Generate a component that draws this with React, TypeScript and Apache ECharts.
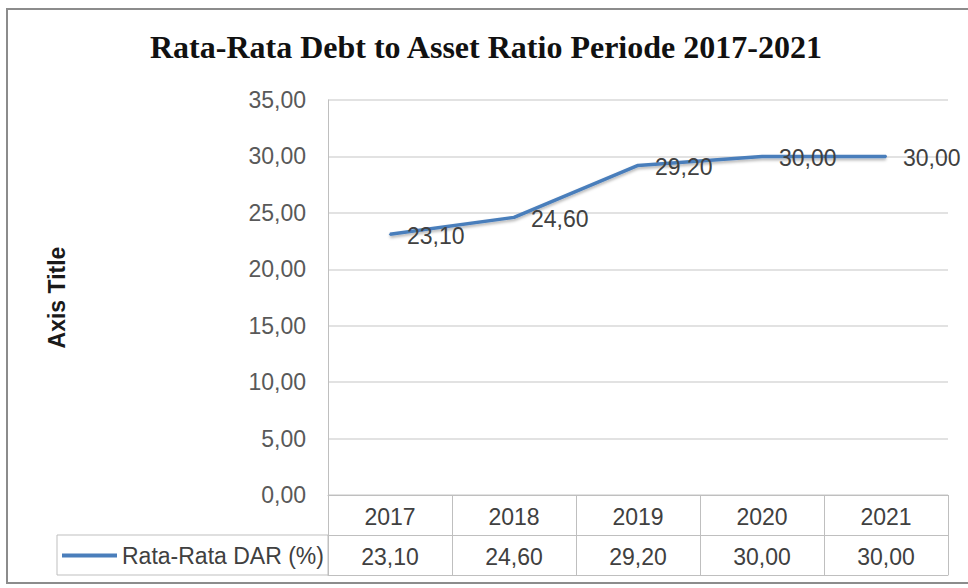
import React, { useEffect, useRef } from "react";
import * as echarts from "echarts";

const titleText = "Rata-Rata Debt to Asset Ratio Periode 2017-2021";
const years = ["2017", "2018", "2019", "2020", "2021"];
const seriesName = "Rata-Rata DAR (%)";
const darValues = [23.1, 24.6, 29.2, 30.0, 30.0];
const yTicks = { min: 0, max: 35, interval: 5 };
const yAxisTitle = "Axis Title";

const fmt = (v: number) => v.toFixed(2).replace(".", ",");

export default function App() {
  const ref = useRef<HTMLDivElement>(null);
  useEffect(() => {
    document.body.style.margin = "0";
    if (!ref.current) return;
    const chart = echarts.init(ref.current, undefined, { renderer: "svg" });
    const font = "'Liberation Sans', Arial, sans-serif";
    const tableLine = "#bfbfbf";
    const lineColor = "#4a7ebb";
    chart.setOption({
      animation: false,
      backgroundColor: "#ffffff",
      title: {
        text: titleText,
        left: 150,
        top: 31,
        padding: 0,
        textStyle: {
          fontFamily: "'Liberation Serif', 'Times New Roman', serif",
          fontWeight: "bold",
          fontSize: 32,
          color: "#111111",
        },
      },
      legend: {
        data: [{ name: seriesName, itemStyle: { color: lineColor, opacity: 1 } }],
        left: 62,
        top: 544,
        padding: 0,
        icon: "rect",
        itemWidth: 55,
        itemHeight: 4,
        itemStyle: { color: lineColor, opacity: 1 },
        textStyle: { fontFamily: font, fontSize: 23, color: "#404040" },
      },
      grid: { left: 328, right: 20, top: 100, bottom: 93, containLabel: false },
      xAxis: [
        {
          type: "category",
          data: years,
          boundaryGap: true,
          position: "bottom",
          axisLine: { show: true, lineStyle: { color: tableLine, width: 1 } },
          axisTick: { show: true, length: 80, interval: 0, alignWithLabel: false, lineStyle: { color: tableLine } },
          axisLabel: { margin: 10, fontFamily: font, fontSize: 23, color: "#404040", interval: 0 },
          splitLine: { show: false },
        },
        {
          type: "category",
          data: darValues.map(fmt),
          boundaryGap: true,
          position: "bottom",
          offset: 40,
          axisLine: { show: true, lineStyle: { color: tableLine, width: 1 } },
          axisTick: { show: false },
          axisLabel: { margin: 10, fontFamily: font, fontSize: 23, color: "#404040", interval: 0 },
        },
        {
          type: "category",
          data: years,
          position: "bottom",
          offset: 80,
          axisLine: { show: true, lineStyle: { color: tableLine, width: 1 } },
          axisTick: { show: false },
          axisLabel: { show: false },
        },
      ],
      yAxis: {
        type: "value",
        min: yTicks.min,
        max: yTicks.max,
        interval: yTicks.interval,
        name: yAxisTitle,
        nameLocation: "middle",
        nameRotate: 90,
        nameGap: 260,
        nameTextStyle: { fontFamily: font, fontSize: 23, fontWeight: "bold", color: "#1a1a1a" },
        axisLine: { show: true, lineStyle: { color: tableLine } },
        axisTick: { show: false },
        axisLabel: {
          margin: 22,
          fontFamily: font,
          fontSize: 23,
          color: "#595959",
          formatter: (v: number) => fmt(v),
        },
        splitLine: { show: true, lineStyle: { color: "#d9d9d9", width: 1.5 } },
      },
      series: [
        {
          name: seriesName,
          type: "line",
          data: darValues,
          showSymbol: true,
          symbol: "circle",
          symbolSize: 2,
          itemStyle: { color: lineColor },
          color: lineColor,
          lineStyle: {
            color: lineColor,
            width: 3.5,
            shadowColor: "rgba(0,0,0,0.3)",
            shadowBlur: 3,
            shadowOffsetY: 2,
          },
          label: {
            show: true,
            position: "right",
            distance: 16,
            offset: [0, 2],
            fontFamily: font,
            fontSize: 23,
            color: "#404040",
            formatter: (p: any) => fmt(p.value),
          },
        },
      ],
      graphic: [
        {
          type: "rect",
          shape: { x: 57, y: 535, width: 271, height: 40 },
          style: { fill: "none", stroke: tableLine, lineWidth: 1 },
          silent: true,
        },
        {
          type: "rect",
          shape: { x: 7, y: 9, width: 980, height: 574 },
          style: { fill: "none", stroke: "#8c8c8c", lineWidth: 2 },
          silent: true,
        },
      ],
    });
    return () => chart.dispose();
  }, []);
  return <div ref={ref} style={{ width: 968, height: 588 }} />;
}
